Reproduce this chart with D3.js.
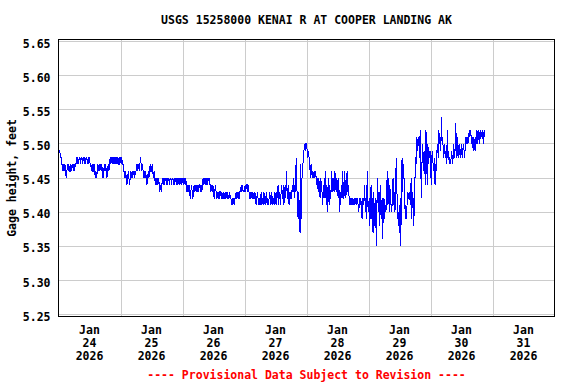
<!DOCTYPE html>
<html>
<head>
<meta charset="utf-8">
<script src="https://cdn.jsdelivr.net/npm/d3@7"></script>
<style>
html,body{margin:0;padding:0;background:#fff;}
svg{display:block;}
text{font-family:"DejaVu Sans Mono",monospace;font-weight:bold;font-size:11.5px;}
</style>
</head>
<body>
<svg id="chart" width="576" height="384"></svg>
<script>
// ---- data (gage height, feet; 15-minute readings starting Jan 24 2026 00:00) ----
const title = "USGS 15258000 KENAI R AT COOPER LANDING AK";
const yLabel = "Gage height, feet";
const footer = "---- Provisional Data Subject to Revision ----";
const yTicks = [5.25, 5.30, 5.35, 5.40, 5.45, 5.50, 5.55, 5.60, 5.65];
const dayLabels = ["24", "25", "26", "27", "28", "29", "30", "31"];
const monthLabel = "Jan";
const yearLabel = "2026";
const startTime = new Date(2026, 0, 24, 0, 0);
const endTime = new Date(2026, 1, 1, 0, 0);
const stepMinutes = 15;

const jan24 = [
5.49,5.49,5.49,5.48,5.48,5.47,5.47,5.46,5.47,5.46,5.47,5.46,5.45,5.46,5.47,5.46,5.47,5.46,5.46,5.47,5.46,5.47,5.47,5.46,
5.47,5.46,5.47,5.47,5.48,5.47,5.48,5.47,5.48,5.48,5.47,5.48,5.48,5.47,5.48,5.48,5.47,5.48,5.47,5.48,5.48,5.47,5.48,5.47,
5.48,5.47,5.47,5.46,5.47,5.46,5.46,5.47,5.46,5.45,5.46,5.45,5.46,5.47,5.46,5.47,5.46,5.47,5.46,5.47,5.46,5.45,5.46,5.47,
5.46,5.47,5.46,5.45,5.46,5.47,5.46,5.47,5.48,5.47,5.48,5.47,5.48,5.48,5.47,5.48,5.48,5.47,5.48,5.47,5.48,5.47,5.47,5.48];
const jan25 = [
5.48,5.47,5.48,5.47,5.47,5.46,5.46,5.45,5.46,5.45,5.44,5.45,5.46,5.45,5.44,5.45,5.46,5.45,5.46,5.45,5.46,5.46,5.45,5.46,
5.46,5.47,5.46,5.47,5.47,5.46,5.47,5.48,5.47,5.46,5.47,5.46,5.45,5.46,5.45,5.46,5.45,5.44,5.45,5.46,5.45,5.46,5.47,5.46,
5.46,5.47,5.46,5.45,5.46,5.45,5.44,5.45,5.44,5.45,5.44,5.45,5.44,5.43,5.44,5.43,5.44,5.45,5.44,5.45,5.44,5.45,5.45,5.44,
5.45,5.44,5.45,5.45,5.44,5.45,5.45,5.44,5.45,5.45,5.44,5.45,5.44,5.45,5.45,5.44,5.45,5.44,5.45,5.45,5.44,5.45,5.45,5.44];
const jan26 = [
5.45,5.44,5.45,5.45,5.44,5.45,5.44,5.43,5.44,5.43,5.44,5.43,5.42,5.43,5.44,5.43,5.42,5.43,5.44,5.43,5.44,5.43,5.44,5.43,
5.44,5.43,5.44,5.44,5.43,5.44,5.43,5.44,5.45,5.44,5.45,5.44,5.45,5.44,5.45,5.44,5.45,5.45,5.44,5.44,5.43,5.44,5.43,5.44,
5.43,5.42,5.43,5.44,5.43,5.42,5.43,5.42,5.43,5.42,5.43,5.43,5.42,5.43,5.42,5.43,5.42,5.42,5.43,5.42,5.43,5.42,5.43,5.42,
5.42,5.43,5.42,5.42,5.41,5.42,5.41,5.42,5.41,5.42,5.42,5.43,5.42,5.43,5.42,5.43,5.42,5.43,5.43,5.44,5.43,5.44,5.43,5.43];
const jan27 = [
5.43,5.44,5.43,5.44,5.44,5.43,5.44,5.43,5.42,5.43,5.42,5.43,5.42,5.43,5.42,5.42,5.43,5.42,5.41,5.42,5.43,5.42,5.41,5.42,
5.41,5.42,5.43,5.41,5.42,5.41,5.43,5.42,5.41,5.42,5.43,5.41,5.42,5.41,5.42,5.43,5.42,5.41,5.43,5.42,5.41,5.42,5.41,5.43,
5.42,5.41,5.43,5.42,5.44,5.41,5.43,5.42,5.41,5.44,5.43,5.42,5.44,5.41,5.43,5.44,5.42,5.46,5.43,5.42,5.44,5.41,5.43,5.42,
5.43,5.42,5.44,5.43,5.45,5.42,5.44,5.43,5.48,5.44,5.41,5.39,5.43,5.40,5.37,5.47,5.39,5.45,5.46,5.48,5.49,5.50,5.49,5.50];
const jan28 = [
5.50,5.49,5.48,5.49,5.48,5.47,5.45,5.47,5.46,5.45,5.46,5.45,5.46,5.45,5.46,5.45,5.44,5.45,5.43,5.45,5.44,5.42,5.45,5.44,
5.43,5.41,5.44,5.42,5.43,5.46,5.42,5.44,5.40,5.43,5.45,5.41,5.44,5.42,5.43,5.46,5.44,5.43,5.45,5.43,5.46,5.44,5.43,5.45,
5.44,5.42,5.45,5.40,5.43,5.41,5.44,5.42,5.46,5.43,5.42,5.46,5.44,5.42,5.45,5.46,5.43,5.44,5.42,5.41,5.42,5.41,5.42,5.41,
5.42,5.41,5.42,5.41,5.42,5.42,5.41,5.42,5.41,5.40,5.42,5.41,5.42,5.41,5.39,5.42,5.41,5.42,5.44,5.40,5.42,5.39,5.46,5.41];
const jan29 = [
5.40,5.42,5.38,5.41,5.44,5.39,5.42,5.37,5.43,5.40,5.38,5.42,5.35,5.41,5.45,5.40,5.43,5.38,5.44,5.40,5.39,5.42,5.36,5.41,
5.42,5.39,5.41,5.40,5.42,5.46,5.41,5.45,5.40,5.44,5.42,5.41,5.40,5.42,5.45,5.41,5.43,5.40,5.44,5.48,5.43,5.41,5.38,5.40,
5.37,5.42,5.35,5.44,5.48,5.43,5.47,5.45,5.42,5.39,5.41,5.39,5.42,5.43,5.42,5.43,5.42,5.41,5.45,5.39,5.43,5.42,5.38,5.41,
5.45,5.48,5.47,5.51,5.49,5.50,5.51,5.48,5.52,5.46,5.42,5.48,5.50,5.46,5.49,5.47,5.44,5.52,5.48,5.44,5.50,5.47,5.49,5.48];
const jan30 = [
5.49,5.44,5.48,5.49,5.47,5.46,5.48,5.44,5.47,5.46,5.49,5.50,5.48,5.52,5.50,5.51,5.49,5.54,5.50,5.51,5.48,5.50,5.49,5.48,
5.49,5.47,5.52,5.48,5.49,5.47,5.48,5.47,5.48,5.49,5.47,5.48,5.50,5.48,5.49,5.53,5.50,5.48,5.51,5.49,5.48,5.50,5.49,5.48,
5.50,5.48,5.49,5.50,5.49,5.48,5.50,5.51,5.50,5.51,5.50,5.51,5.52,5.51,5.52,5.51,5.50,5.51,5.49,5.51,5.50,5.49,5.51,5.50,
5.52,5.50,5.51,5.52,5.50,5.51,5.52,5.51,5.52,5.51,5.50,5.52,5.51];

const values = [].concat(jan24, jan25, jan26, jan27, jan28, jan29, jan30);
const series = values.map((v, i) => ({t: d3.timeMinute.offset(startTime, i * stepMinutes), v}));

// ---- layout ----
const svg = d3.select("#chart");
const plotLeft = 58.5, plotRight = 554.5, plotTop = 39.5, plotBottom = 316.5;
const x = d3.scaleTime().domain([startTime, endTime]).range([plotLeft, plotRight]);
const y = d3.scaleLinear().domain([5.25, 5.65]).range([314.5, 41.5]);

// gridlines
const days = d3.timeDay.range(d3.timeDay.offset(startTime, 1), endTime);
svg.append("g").selectAll("line").data(days).join("line")
  .attr("x1", d => Math.round(x(d)) + 0.5).attr("x2", d => Math.round(x(d)) + 0.5)
  .attr("y1", plotTop).attr("y2", plotBottom)
  .attr("stroke", "#cccccc").attr("stroke-width", 1).attr("shape-rendering", "crispEdges");
svg.append("g").selectAll("line").data(yTicks).join("line")
  .attr("x1", plotLeft).attr("x2", plotRight)
  .attr("y1", d => Math.floor(y(d)) + 0.5).attr("y2", d => Math.floor(y(d)) + 0.5)
  .attr("stroke", "#cccccc").attr("stroke-width", 1).attr("shape-rendering", "crispEdges");

// data line
const line = d3.line().x(d => x(d.t)).y(d => y(d.v));
svg.append("path").datum(series)
  .attr("d", line).attr("fill", "none")
  .attr("stroke", "#0000ff").attr("stroke-width", 1)
  .attr("shape-rendering", "crispEdges");

// frame
svg.append("rect").attr("x", plotLeft).attr("y", plotTop)
  .attr("width", plotRight - plotLeft).attr("height", plotBottom - plotTop)
  .attr("fill", "none").attr("stroke", "#000").attr("stroke-width", 1)
  .attr("shape-rendering", "crispEdges");

// y tick labels via axis
const yAxis = d3.axisLeft(y).tickValues(yTicks).tickFormat(d3.format(".2f")).tickSize(0).tickPadding(8);
const gy = svg.append("g").attr("transform", `translate(${plotLeft},2)`).call(yAxis);
gy.select(".domain").remove();
gy.selectAll("text").attr("fill", "#000")
  .style("font-family", "'DejaVu Sans Mono', monospace").style("font-weight", "bold").style("font-size", "11.5px");

// x labels at day midpoints
const mids = dayLabels.map((d, i) => d3.timeHour.offset(startTime, 24 * i + 12));
const gx = svg.append("g");
mids.forEach((m, i) => {
  const t = gx.append("text").attr("x", x(m)).attr("text-anchor", "middle");
  t.append("tspan").attr("x", x(m)).attr("y", 334).text(monthLabel);
  t.append("tspan").attr("x", x(m)).attr("y", 347).text(dayLabels[i]);
  t.append("tspan").attr("x", x(m)).attr("y", 360).text(yearLabel);
});

// title
svg.append("text").attr("x", (plotLeft + plotRight) / 2).attr("y", 24)
  .attr("text-anchor", "middle").text(title);

// y label
svg.append("text").attr("transform", `translate(16,${(plotTop + plotBottom) / 2}) rotate(-90)`)
  .attr("text-anchor", "middle").text(yLabel);

// footer
svg.append("text").attr("x", (plotLeft + plotRight) / 2).attr("y", 379)
  .attr("text-anchor", "middle").attr("fill", "#ff0000").text(footer);
</script>
</body>
</html>
